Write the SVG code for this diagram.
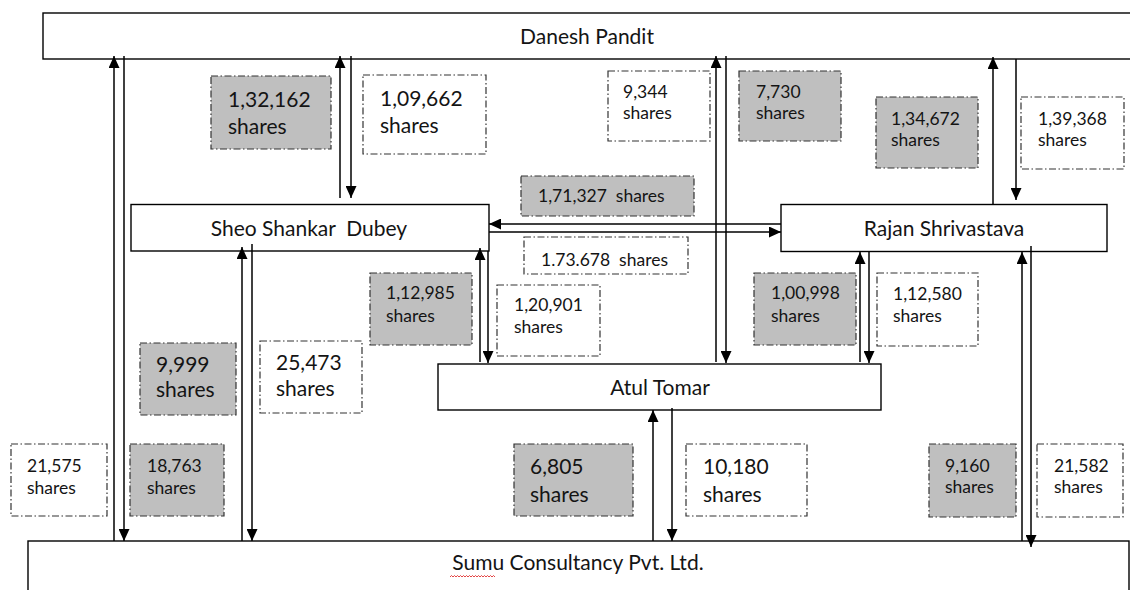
<svg xmlns="http://www.w3.org/2000/svg" width="1130" height="590" viewBox="0 0 1130 590">
  <defs>
    <marker id="head" markerUnits="userSpaceOnUse" markerWidth="12" markerHeight="11" refX="12" refY="5.5" orient="auto">
      <path d="M0,0 L12,5.5 L0,11 z" fill="#000"/>
    </marker>
    <style>
      .node { fill: #fff; stroke: #000; stroke-width: 1.4; }
      .name { font-family: Lato, "Liberation Sans", sans-serif; font-size: 21px; fill: #141414; text-anchor: middle; white-space: pre; }
      .tag { stroke: #333; stroke-width: 1.2; stroke-dasharray: 7 2.5 1.5 2.5; }
      .grey { fill: #bfbfbf; }
      .white { fill: #fff; }
      .big { font-family: Lato, "Liberation Sans", sans-serif; font-size: 21px; fill: #141414; }
      .small { font-family: Lato, "Liberation Sans", sans-serif; font-size: 17.5px; fill: #141414; white-space: pre; }
      .flow { stroke: #000; stroke-width: 1.5; fill: none; marker-end: url(#head); }
    </style>
  </defs>

  <rect width="1130" height="590" fill="#fff"/>

  <!-- people and company -->
  <g id="danesh-pandit">
    <rect class="node" x="43" y="13" width="1100" height="46"/>
    <text class="name" x="587" y="44">Danesh Pandit</text>
  </g>
  <g id="sheo-shankar-dubey">
    <rect class="node" x="131" y="204.5" width="358" height="46.5"/>
    <text class="name" x="309" y="236">Sheo Shankar  Dubey</text>
  </g>
  <g id="rajan-shrivastava">
    <rect class="node" x="781" y="204.5" width="326" height="47"/>
    <text class="name" x="944" y="236">Rajan Shrivastava</text>
  </g>
  <g id="atul-tomar">
    <rect class="node" x="438" y="364" width="443" height="46"/>
    <text class="name" x="660" y="395">Atul Tomar</text>
  </g>
  <g id="sumu-consultancy">
    <rect class="node" x="28" y="541" width="1101" height="60"/>
    <text class="name" x="578" y="570">Sumu Consultancy Pvt. Ltd.</text>
    <!-- spell-check squiggle under "Sumu" -->
    <path d="M450,577 l1.5,-1.5 l1.5,1.5 l1.5,-1.5 l1.5,1.5 l1.5,-1.5 l1.5,1.5 l1.5,-1.5 l1.5,1.5 l1.5,-1.5 l1.5,1.5 l1.5,-1.5 l1.5,1.5 l1.5,-1.5 l1.5,1.5 l1.5,-1.5 l1.5,1.5 l1.5,-1.5 l1.5,1.5 l1.5,-1.5 l1.5,1.5 l1.5,-1.5 l1.5,1.5 l1.5,-1.5 l1.5,1.5 l1.5,-1.5 l1.5,1.5 l1.5,-1.5 l1.5,1.5 l1.5,-1.5 l1.5,1.5" fill="none" stroke="#e03030" stroke-width="0.9"/>
  </g>

  <!-- share transfers -->
  <g id="connectors">
    <!-- Sumu <-> Danesh -->
    <line class="flow" x1="114" y1="541" x2="114" y2="56"/>
    <line class="flow" x1="124" y1="56" x2="124" y2="541"/>
    <!-- Sheo <-> Danesh -->
    <line class="flow" x1="340" y1="198" x2="340" y2="56"/>
    <line class="flow" x1="351" y1="56" x2="351" y2="198"/>
    <!-- Sumu <-> Sheo -->
    <line class="flow" x1="242" y1="541" x2="242" y2="247"/>
    <line class="flow" x1="252" y1="244" x2="252" y2="541"/>
    <!-- Atul <-> Sheo -->
    <line class="flow" x1="480" y1="362" x2="480" y2="248"/>
    <line class="flow" x1="488" y1="251" x2="488" y2="363"/>
    <!-- Sheo <-> Rajan -->
    <line class="flow" x1="781" y1="224" x2="489" y2="224"/>
    <line class="flow" x1="489" y1="232" x2="781" y2="232"/>
    <!-- Atul <-> Danesh -->
    <line class="flow" x1="716" y1="362" x2="716" y2="56"/>
    <line class="flow" x1="726" y1="56" x2="726" y2="363"/>
    <!-- Rajan <-> Danesh -->
    <line class="flow" x1="993" y1="204" x2="993" y2="57"/>
    <line class="flow" x1="1016" y1="59" x2="1016" y2="200"/>
    <!-- Atul <-> Rajan -->
    <line class="flow" x1="860" y1="362" x2="860" y2="252"/>
    <line class="flow" x1="869" y1="252" x2="869" y2="363"/>
    <!-- Sumu <-> Rajan -->
    <line class="flow" x1="1022" y1="541" x2="1022" y2="252"/>
    <line class="flow" x1="1031" y1="246" x2="1031" y2="547"/>
    <!-- Sumu <-> Atul -->
    <line class="flow" x1="653" y1="541" x2="653" y2="410"/>
    <line class="flow" x1="672" y1="408" x2="672" y2="541"/>
  </g>

  <!-- share counts -->
  <g id="t-132162"><rect class="tag grey" x="211" y="76" width="120" height="73"/><text class="big" x="228" y="107">1,32,162</text><text class="big" x="228" y="134">shares</text></g>
  <g id="t-109662"><rect class="tag white" x="363" y="75" width="123" height="79"/><text class="big" x="380" y="106">1,09,662</text><text class="big" x="380" y="133">shares</text></g>
  <g id="t-9344"><rect class="tag white" x="608" y="71" width="102" height="70"/><text class="small" x="623" y="98">9,344</text><text class="small" x="623" y="119">shares</text></g>
  <g id="t-7730"><rect class="tag grey" x="739" y="71" width="102" height="70"/><text class="small" x="756" y="98">7,730</text><text class="small" x="756" y="119">shares</text></g>
  <g id="t-134672"><rect class="tag grey" x="876" y="97" width="102" height="71"/><text class="small" x="891" y="125">1,34,672</text><text class="small" x="891" y="146">shares</text></g>
  <g id="t-139368"><rect class="tag white" x="1021" y="97" width="103" height="72"/><text class="small" x="1038" y="125">1,39,368</text><text class="small" x="1038" y="146">shares</text></g>
  <g id="t-171327"><rect class="tag grey" x="521" y="176" width="173" height="40"/><text class="small" x="538" y="202">1,71,327  shares</text></g>
  <g id="t-173678"><rect class="tag white" x="524" y="237" width="164" height="37"/><text class="small" x="541" y="266">1.73.678  shares</text></g>
  <g id="t-112985"><rect class="tag grey" x="370" y="273" width="102" height="72"/><text class="small" x="386" y="299">1,12,985</text><text class="small" x="386" y="322">shares</text></g>
  <g id="t-120901"><rect class="tag white" x="497" y="285" width="103" height="71"/><text class="small" x="514" y="311">1,20,901</text><text class="small" x="514" y="333">shares</text></g>
  <g id="t-100998"><rect class="tag grey" x="754" y="273" width="102" height="72"/><text class="small" x="771" y="299">1,00,998</text><text class="small" x="771" y="322">shares</text></g>
  <g id="t-112580"><rect class="tag white" x="877" y="273" width="101" height="73"/><text class="small" x="893" y="300">1,12,580</text><text class="small" x="893" y="322">shares</text></g>
  <g id="t-9999"><rect class="tag grey" x="140" y="343" width="96" height="72"/><text class="big" x="156" y="372">9,999</text><text class="big" x="156" y="397">shares</text></g>
  <g id="t-25473"><rect class="tag white" x="260" y="341" width="102" height="72"/><text class="big" x="276" y="370">25,473</text><text class="big" x="276" y="396">shares</text></g>
  <g id="t-21575"><rect class="tag white" x="11" y="444" width="96" height="72"/><text class="small" x="27" y="472">21,575</text><text class="small" x="27" y="494">shares</text></g>
  <g id="t-18763"><rect class="tag grey" x="130" y="444" width="94" height="72"/><text class="small" x="147" y="472">18,763</text><text class="small" x="147" y="494">shares</text></g>
  <g id="t-6805"><rect class="tag grey" x="514" y="444" width="119" height="72"/><text class="big" x="530" y="474">6,805</text><text class="big" x="530" y="502">shares</text></g>
  <g id="t-10180"><rect class="tag white" x="686" y="444" width="121" height="72"/><text class="big" x="703" y="474">10,180</text><text class="big" x="703" y="502">shares</text></g>
  <g id="t-9160"><rect class="tag grey" x="929" y="444" width="87" height="73"/><text class="small" x="945" y="472">9,160</text><text class="small" x="945" y="493">shares</text></g>
  <g id="t-21582"><rect class="tag white" x="1037" y="444" width="86" height="73"/><text class="small" x="1054" y="472">21,582</text><text class="small" x="1054" y="493">shares</text></g>
</svg>
